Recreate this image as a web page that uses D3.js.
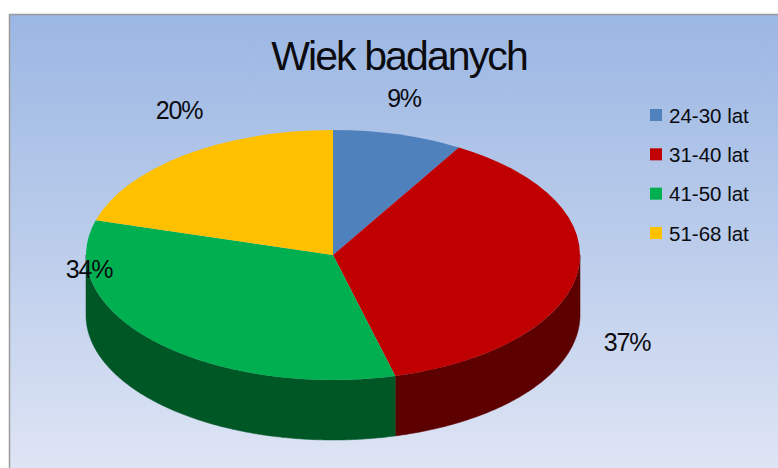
<!DOCTYPE html>
<html>
<head>
<meta charset="utf-8">
<script src="https://cdn.jsdelivr.net/npm/d3@7"></script>
<style>
  html, body { margin: 0; padding: 0; background: #fff; }
  svg { display: block; }
  text { font-family: "Liberation Sans", Arial, sans-serif; fill: #0b0b10; }
</style>
</head>
<body>
<div id="chart"></div>
<script>
const title = "Wiek badanych";
const categories = ["24-30 lat", "31-40 lat", "41-50 lat", "51-68 lat"];
const values = [8.5, 37.4, 33.5, 20.5];
const labels = ["9%", "37%", "34%", "20%"];
const topColors = ["#4f81bd", "#c00000", "#00b050", "#ffc000"];
const sideColors = ["#2c4a6e", "#5c0000", "#005726", "#8a6800"];

const w = 778, h = 468;
const cx = 333, cy = 255, rx = 247, ry = 125, depth = 60;

const svg = d3.select("#chart").append("svg").attr("width", w).attr("height", h);

const grad = svg.append("defs").append("linearGradient")
  .attr("id", "bg").attr("x1", 0).attr("y1", 0).attr("x2", 0).attr("y2", 1);
grad.append("stop").attr("offset", "0%").attr("stop-color", "#9bb7e3");
grad.append("stop").attr("offset", "50%").attr("stop-color", "#bccdeb");
grad.append("stop").attr("offset", "100%").attr("stop-color", "#e0e6f5");

svg.append("rect").attr("x", 9.5).attr("y", 14.5).attr("width", w).attr("height", h)
  .attr("fill", "url(#bg)").attr("stroke", "#9a9a9a").attr("stroke-width", 1.5);

const arcs = d3.pie().sort(null).value(d => d)(values);
const g = svg.append("g").attr("transform", `translate(${cx},${cy})`);

// front wall of the pie, only the part that faces the viewer
const wall = d3.area()
  .x(a => rx * Math.sin(a))
  .y0(a => -ry * Math.cos(a))
  .y1(a => -ry * Math.cos(a) + depth);

arcs.forEach((d, i) => {
  const a0 = Math.max(d.startAngle, Math.PI / 2);
  const a1 = Math.min(d.endAngle, Math.PI * 3 / 2);
  if (a1 <= a0) return;
  const steps = d3.range(a0, a1, 0.01).concat([a1]);
  g.append("path").attr("d", wall(steps)).attr("fill", sideColors[i])
    .attr("stroke", sideColors[i]).attr("stroke-width", 0.5);
});

// top face: a circular pie flattened to an ellipse
const arc = d3.arc().innerRadius(0).outerRadius(rx);
g.append("g").attr("transform", `scale(1,${ry / rx})`)
  .selectAll("path").data(arcs).join("path")
  .attr("d", arc)
  .attr("fill", (d, i) => topColors[i]);

svg.append("text").attr("x", 399).attr("y", 70).attr("text-anchor", "middle")
  .attr("font-size", 41).attr("letter-spacing", -1.9).text(title);

const labelX = [404, 627, 89, 179];
const labelY = [107, 351, 278, 119];
svg.selectAll(".lbl").data(labels).join("text").attr("class", "lbl")
  .attr("x", (d, i) => labelX[i]).attr("y", (d, i) => labelY[i])
  .attr("text-anchor", "middle").attr("font-size", 25).attr("letter-spacing", -1.2)
  .text(d => d);

const ly = d3.scalePoint().domain(categories).range([115, 233]);
const leg = svg.selectAll(".leg").data(categories).join("g").attr("class", "leg")
  .attr("transform", d => `translate(650,${ly(d)})`);
leg.append("rect").attr("y", -6).attr("width", 12).attr("height", 12)
  .attr("fill", (d, i) => topColors[i]);
leg.append("text").attr("x", 19).attr("y", 7.5).attr("font-size", 20.5)
  .text(d => d);
</script>
</body>
</html>
